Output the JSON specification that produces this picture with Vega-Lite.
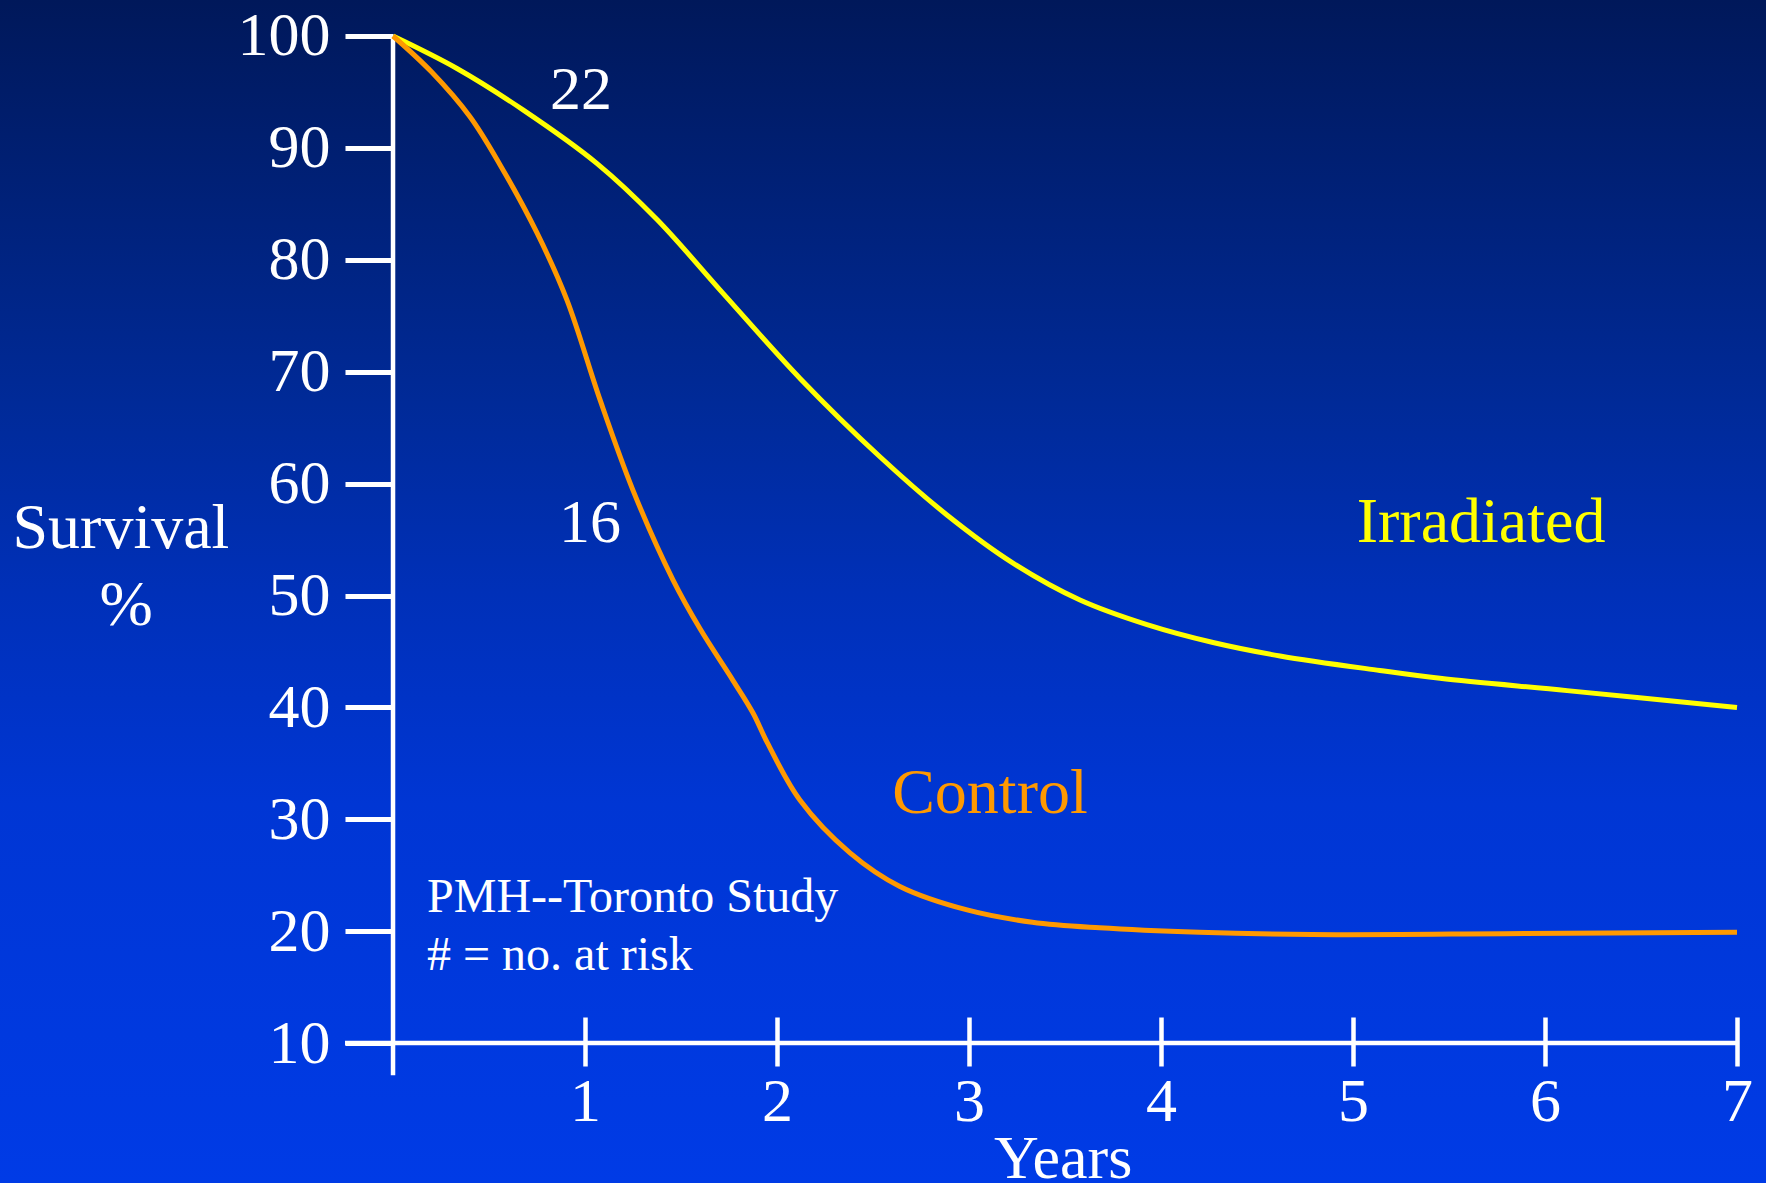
{
  "$schema": "https://vega.github.io/schema/vega-lite/v6.json",
  "width": 1766,
  "height": 1183,
  "autosize": {"type": "none"},
  "padding": 0,
  "background": "#002a9c",
  "config": {
    "font": "Liberation Serif",
    "view": {
      "stroke": null,
      "fill": {
        "gradient": "linear",
        "x1": 0, "y1": 0, "x2": 0, "y2": 1,
        "stops": [
          {"offset": 0, "color": "#00185a"},
          {"offset": 0.34, "color": "#002a98"},
          {"offset": 0.5, "color": "#0030b8"},
          {"offset": 0.68, "color": "#0036d4"},
          {"offset": 1, "color": "#003be6"}
        ]
      }
    }
  },
  "datasets": {
    "curves": [
      {"series": "Irradiated", "year": 0, "value": 100},
      {"series": "Irradiated", "year": 0.333, "value": 97.1},
      {"series": "Irradiated", "year": 0.677, "value": 93.4},
      {"series": "Irradiated", "year": 1.063, "value": 88.6},
      {"series": "Irradiated", "year": 1.375, "value": 83.6},
      {"series": "Irradiated", "year": 1.719, "value": 77.0},
      {"series": "Irradiated", "year": 2.12, "value": 69.4},
      {"series": "Irradiated", "year": 2.536, "value": 62.4},
      {"series": "Irradiated", "year": 2.885, "value": 57.2},
      {"series": "Irradiated", "year": 3.229, "value": 52.9},
      {"series": "Irradiated", "year": 3.578, "value": 49.6},
      {"series": "Irradiated", "year": 3.927, "value": 47.4},
      {"series": "Irradiated", "year": 4.271, "value": 45.8},
      {"series": "Irradiated", "year": 4.62, "value": 44.6},
      {"series": "Irradiated", "year": 5.14, "value": 43.3},
      {"series": "Irradiated", "year": 5.453, "value": 42.6},
      {"series": "Irradiated", "year": 6.115, "value": 41.5},
      {"series": "Irradiated", "year": 7.0, "value": 40.0},
      {"series": "Control", "year": 0, "value": 100},
      {"series": "Control", "year": 0.2, "value": 96.8},
      {"series": "Control", "year": 0.4, "value": 92.8},
      {"series": "Control", "year": 0.557, "value": 88.5},
      {"series": "Control", "year": 0.75, "value": 82.4},
      {"series": "Control", "year": 0.906, "value": 76.4},
      {"series": "Control", "year": 1.078, "value": 67.5},
      {"series": "Control", "year": 1.25, "value": 59.4},
      {"series": "Control", "year": 1.458, "value": 51.4},
      {"series": "Control", "year": 1.6, "value": 47.0},
      {"series": "Control", "year": 1.771, "value": 42.4},
      {"series": "Control", "year": 1.875, "value": 39.5},
      {"series": "Control", "year": 1.948, "value": 36.9},
      {"series": "Control", "year": 2.12, "value": 31.7},
      {"series": "Control", "year": 2.38, "value": 27.0},
      {"series": "Control", "year": 2.64, "value": 24.0},
      {"series": "Control", "year": 2.99, "value": 21.9},
      {"series": "Control", "year": 3.33, "value": 20.8},
      {"series": "Control", "year": 3.68, "value": 20.3},
      {"series": "Control", "year": 4.2, "value": 19.9},
      {"series": "Control", "year": 4.786, "value": 19.7},
      {"series": "Control", "year": 5.896, "value": 19.8},
      {"series": "Control", "year": 7.0, "value": 19.9}
    ],
    "axisLines": [
      {"year": 0, "year2": 0, "value": 100, "value2": 7.14},
      {"year": -0.25, "year2": 7.0, "value": 10, "value2": 10}
    ],
    "riskLabels": [
      {"label": "22", "year": 0.979, "value": 93.48},
      {"label": "16", "year": 1.026, "value": 54.78}
    ],
    "yTitle": [
      {"label": "Survival", "year": -1.417, "value": 54.24},
      {"label": "%", "year": -1.39, "value": 47.36}
    ],
    "xTitle": [
      {"label": "Years", "year": 3.49, "value": -2.06}
    ],
    "irrLabel": [
      {"label": "Irradiated", "year": 5.667, "value": 54.78}
    ],
    "ctlLabel": [
      {"label": "Control", "year": 3.109, "value": 30.56}
    ],
    "note": [
      {"label": "PMH--Toronto Study", "year": 0.177, "value": 21.72},
      {"label": "# = no. at risk", "year": 0.177, "value": 16.53}
    ]
  },
  "encoding": {
    "x": {
      "field": "year",
      "type": "quantitative",
      "scale": {"domain": [-2.047, 7.151], "nice": false, "zero": false},
      "axis": {
        "values": [1, 2, 3, 4, 5, 6, 7],
        "domain": false,
        "grid": false,
        "offset": -166,
        "tickSize": 49,
        "tickWidth": 4.5,
        "tickColor": "white",
        "labelColor": "white",
        "labelFont": "Liberation Serif",
        "labelFontSize": 62,
        "labelPadding": 5,
        "labelFlush": false,
        "labelOverlap": false,
        "title": null
      }
    },
    "y": {
      "field": "value",
      "type": "quantitative",
      "scale": {"domain": [-2.5, 103.217], "nice": false, "zero": false},
      "axis": {
        "values": [10, 20, 30, 40, 50, 60, 70, 80, 90, 100],
        "domain": false,
        "grid": false,
        "offset": -393,
        "tickSize": 48,
        "tickWidth": 5,
        "tickColor": "white",
        "labelColor": "white",
        "labelFont": "Liberation Serif",
        "labelFontSize": 62,
        "labelPadding": 15,
        "labelFlush": false,
        "labelOverlap": false,
        "title": null
      }
    }
  },
  "layer": [
    {
      "data": {"name": "axisLines"},
      "mark": {"type": "rule", "color": "white", "strokeWidth": 4.5},
      "encoding": {
        "x2": {"field": "year2"},
        "y2": {"field": "value2"}
      }
    },
    {
      "data": {"name": "curves"},
      "mark": {"type": "line", "interpolate": "catmull-rom", "strokeWidth": 5, "strokeCap": "butt"},
      "encoding": {
        "color": {
          "field": "series",
          "type": "nominal",
          "scale": {"domain": ["Irradiated", "Control"], "range": ["#ffff00", "#ff9900"]},
          "legend": null
        },
        "order": {"field": "year", "type": "quantitative"}
      }
    },
    {
      "data": {"name": "riskLabels"},
      "mark": {"type": "text", "color": "white", "fontSize": 62, "align": "center", "baseline": "alphabetic"},
      "encoding": {"text": {"field": "label"}}
    },
    {
      "data": {"name": "yTitle"},
      "mark": {"type": "text", "color": "white", "fontSize": 64, "align": "center", "baseline": "alphabetic"},
      "encoding": {"text": {"field": "label"}}
    },
    {
      "data": {"name": "xTitle"},
      "mark": {"type": "text", "color": "white", "fontSize": 62, "align": "center", "baseline": "alphabetic"},
      "encoding": {"text": {"field": "label"}}
    },
    {
      "data": {"name": "irrLabel"},
      "mark": {"type": "text", "color": "#ffff00", "fontSize": 64, "align": "center", "baseline": "alphabetic"},
      "encoding": {"text": {"field": "label"}}
    },
    {
      "data": {"name": "ctlLabel"},
      "mark": {"type": "text", "color": "#ff9900", "fontSize": 64, "align": "center", "baseline": "alphabetic"},
      "encoding": {"text": {"field": "label"}}
    },
    {
      "data": {"name": "note"},
      "mark": {"type": "text", "color": "white", "fontSize": 48, "align": "left", "baseline": "alphabetic"},
      "encoding": {"text": {"field": "label"}}
    }
  ]
}
